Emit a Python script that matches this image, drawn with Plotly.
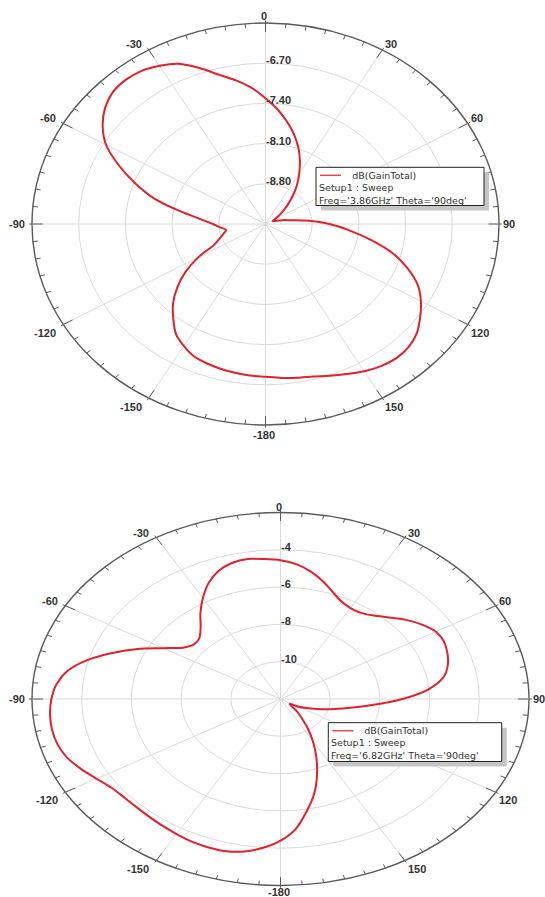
import numpy as np
import plotly.graph_objects as go

FIG_W, FIG_H = 545, 897

# Azimuth of each sample in degrees: 0 at the top, clockwise positive
phi_deg = list(range(-180, 180, 5))

# dB(GainTotal), Setup1 : Sweep, Freq='3.86GHz', Theta='90deg'
gain_386 = [
    -6.84, -6.85, -6.87, -6.89, -6.92, -6.96, -7.05, -7.16, -7.35, -7.54,
    -7.77, -8.03, -8.33, -8.66, -8.77, -8.85, -8.90, -8.82, -8.71, -8.52,
    -8.19, -7.77, -7.42, -7.07, -6.74, -6.52, -6.36, -6.26, -6.23, -6.25,
    -6.32, -6.42, -6.61, -6.81, -6.96, -7.12, -7.31, -7.49, -7.68, -7.87,
    -8.07, -8.28, -8.49, -8.68, -8.87, -9.03, -9.17, -9.27, -9.35, -9.38,
    -9.33, -9.24, -9.12, -8.84, -8.54, -8.24, -7.89, -7.52, -7.23, -6.98,
    -6.81, -6.67, -6.54, -6.47, -6.45, -6.48, -6.54, -6.62, -6.69, -6.75,
    -6.78, -6.81,
]

# dB(GainTotal), Setup1 : Sweep, Freq='6.82GHz', Theta='90deg'
gain_682 = [
    -4.40, -3.99, -3.70, -3.55, -3.53, -3.56, -3.64, -3.71, -3.77, -3.80,
    -3.79, -3.70, -3.45, -3.14, -2.85, -2.70, -2.66, -2.69, -2.78, -2.95,
    -3.30, -3.95, -4.80, -5.65, -6.55, -7.20, -7.45, -7.38, -7.00, -6.38,
    -5.75, -5.15, -4.70, -4.45, -4.38, -4.47, -4.56, -4.74, -5.05, -5.45,
    -5.88, -6.22, -6.37, -6.36, -6.16, -5.82, -5.40, -5.05, -4.78, -4.74,
    -4.85, -5.03, -5.35, -6.02, -7.10, -8.30, -9.25, -9.90, -10.45, -10.85,
    -11.20, -11.55, -11.45, -11.05, -10.70, -10.10, -9.40, -8.60, -7.70, -6.75,
    -5.90, -5.00,
]

r_range_386 = [-9.5, -6.0]
r_ticks_386 = [-8.80, -8.10, -7.40, -6.70]
r_range_682 = [-12.0, -2.0]
r_ticks_682 = [-10, -8, -6, -4]

angle_ticks = [0, 30, 60, 90, 120, 150, 180, -150, -120, -90, -60, -30]
angle_labels = ["0", "30", "60", "90", "120", "150", "-180",
                "-150", "-120", "-90", "-60", "-30"]

legend_386 = ["dB(GainTotal)", "Setup1 : Sweep", "Freq='3.86GHz' Theta='90deg'"]
legend_682 = ["dB(GainTotal)", "Setup1 : Sweep", "Freq='6.82GHz' Theta='90deg'"]

CURVE_RED = "#e0222c"
GRID = "#dadada"
FRAME = "#5a5a5a"
TEXT = "#333333"
FONT = "Liberation Sans, Arial, sans-serif"
LEGEND_FONT = "DejaVu Sans, sans-serif"

# Panel geometry in pixels: centre, half-axes of the stretched polar frame,
# vertical band of the figure, and the legend box
panels = [
    dict(gain=gain_386, rr=r_range_386, rt=r_ticks_386, fmt="{:.2f}",
         legend=legend_386, xa="x", ya="y",
         cx=265.5, cy=224.0, a=233.5, b=201.0, py0=0, py1=448,
         box=(316, 167.3, 484, 205.5),
         up=6, down=-8.5, top=7, bottom=-9.5),
    dict(gain=gain_682, rr=r_range_682, rt=r_ticks_682, fmt="{:d}",
         legend=legend_682, xa="x2", ya="y2",
         cx=280.5, cy=699.0, a=248.5, b=186.5, py0=449, py1=897,
         box=(328.3, 722.7, 501.7, 761.5),
         up=4.5, down=-8.0, top=5.5, bottom=-6.0),
]


def px(x):
    return x / FIG_W


def py(y):
    return 1 - y / FIG_H


fig = go.Figure()
shapes = []
annotations = []
layout_axes = {}

for p in panels:
    xa, ya = p["xa"], p["ya"]
    xname = "xaxis" if xa == "x" else "xaxis" + xa[1:]
    yname = "yaxis" if ya == "y" else "yaxis" + ya[1:]
    layout_axes[xname] = dict(
        domain=[0, 1],
        range=[(0 - p["cx"]) / p["a"], (FIG_W - p["cx"]) / p["a"]],
        visible=False, fixedrange=True,
    )
    layout_axes[yname] = dict(
        domain=[py(p["py1"]), py(p["py0"])],
        range=[(p["cy"] - p["py1"]) / p["b"], (p["cy"] - p["py0"]) / p["b"]],
        visible=False, fixedrange=True,
    )

    rmin, rmax = p["rr"]
    n_rings = len(p["rt"]) + 1

    # Constant-gain rings and the outer frame
    for k in range(1, n_rings + 1):
        rho = k / n_rings
        outer = k == n_rings
        shapes.append(dict(
            type="circle", xref=xa, yref=ya, x0=-rho, x1=rho, y0=-rho, y1=rho,
            line=dict(color=FRAME if outer else GRID, width=1.4 if outer else 1),
            layer="below",
        ))

    # Spokes every 30 degrees
    sx, sy = [], []
    for t in range(0, 180, 30):
        s, c = np.sin(np.radians(t)), np.cos(np.radians(t))
        sx += [-s, s, None]
        sy += [-c, c, None]
    fig.add_trace(go.Scatter(x=sx, y=sy, xaxis=xa, yaxis=ya, mode="lines",
                             line=dict(color=GRID, width=1), hoverinfo="skip",
                             showlegend=False))

    # Tick marks on the frame: every 5 degrees, longer every 30
    tx, ty = [], []
    for t in range(-180, 180, 5):
        s, c = np.sin(np.radians(t)), np.cos(np.radians(t))
        r0, r1 = (1.012, 0.955) if t % 30 == 0 else (1.0, 0.978)
        tx += [r0 * s, r1 * s, None]
        ty += [r0 * c, r1 * c, None]
    fig.add_trace(go.Scatter(x=tx, y=ty, xaxis=xa, yaxis=ya, mode="lines",
                             line=dict(color=FRAME, width=1), hoverinfo="skip",
                             showlegend=False))

    # Gain pattern
    phi = np.radians(np.array(phi_deg + [phi_deg[0]], dtype=float))
    g = np.array(p["gain"] + [p["gain"][0]], dtype=float)
    rho = (g - rmin) / (rmax - rmin)
    fig.add_trace(go.Scatter(
        x=rho * np.sin(phi), y=rho * np.cos(phi), xaxis=xa, yaxis=ya,
        mode="lines", line=dict(color=CURVE_RED, width=2, shape="spline",
                                smoothing=0.8),
        name=p["legend"][0], showlegend=False,
    ))

    # Radial tick labels along the 0 degree spoke
    for k, val in enumerate(p["rt"], start=1):
        annotations.append(dict(
            x=0, y=k / n_rings, xref=xa, yref=ya, text=p["fmt"].format(val),
            showarrow=False, xanchor="left", yanchor="middle", xshift=-2,
            yshift=3, font=dict(family=FONT, size=11, color=TEXT, weight="bold"),
        ))

    # Angle labels around the frame
    for t, lab in zip(angle_ticks, angle_labels):
        s, c = np.sin(np.radians(t)), np.cos(np.radians(t))
        if t == 0:
            xanc, xs, ys = "center", -2, p["top"]
        elif t == 180:
            xanc, xs, ys = "center", -2, p["bottom"]
        elif t < 0:
            xanc, xs = "right", -5
            ys = 0 if t == -90 else (p["up"] if t > -90 else p["down"])
        else:
            xanc, xs = "left", 1 if t != 90 else 2
            ys = 0 if t == 90 else (p["up"] if t < 90 else p["down"])
        annotations.append(dict(
            x=s, y=c, xref=xa, yref=ya, text=lab, showarrow=False,
            xanchor=xanc, yanchor="middle", xshift=xs, yshift=ys,
            font=dict(family=FONT, size=11, color=TEXT, weight="bold"),
        ))

    # Legend box with drop shadow
    x0, y0, x1, y1 = p["box"]
    shapes.append(dict(type="rect", xref="paper", yref="paper",
                       x0=px(x0 + 5), x1=px(x1 + 5), y0=py(y1 + 5), y1=py(y0 + 5),
                       fillcolor="#c6c6c6", line=dict(width=0), layer="above"))
    shapes.append(dict(type="rect", xref="paper", yref="paper",
                       x0=px(x0), x1=px(x1), y0=py(y1), y1=py(y0),
                       fillcolor="white", line=dict(color="#222222", width=1),
                       layer="above"))
    shapes.append(dict(type="line", xref="paper", yref="paper",
                       x0=px(x0 + 4), x1=px(x0 + 25), y0=py(y0 + 8), y1=py(y0 + 8),
                       line=dict(color="#e04848", width=1.5), layer="above"))
    legend_text = ("\u00a0" * 11 + p["legend"][0] + "<br>"
                   + p["legend"][1] + "<br>" + p["legend"][2])
    annotations.append(dict(
        x=px(x0 + 1), y=py(y0 + 0.5), xref="paper", yref="paper",
        text=legend_text, align="left", showarrow=False,
        xanchor="left", yanchor="top", borderpad=1,
        font=dict(family=LEGEND_FONT, size=9.5, color=TEXT),
    ))

fig.update_layout(
    width=FIG_W, height=FIG_H,
    margin=dict(l=0, r=0, t=0, b=0),
    paper_bgcolor="white", plot_bgcolor="white",
    showlegend=False,
    shapes=shapes, annotations=annotations,
    **layout_axes,
)

fig.write_html("out.html")
